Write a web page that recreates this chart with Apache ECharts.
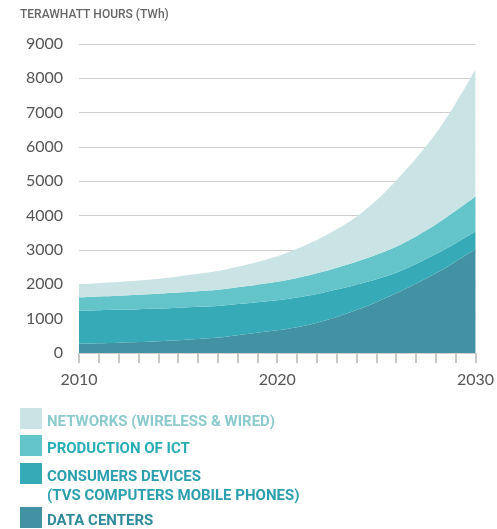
<!DOCTYPE html>
<html>
<head>
<meta charset="utf-8">
<script src="https://cdn.jsdelivr.net/npm/echarts@6/dist/echarts.min.js"></script>
<style>
  html, body { margin: 0; padding: 0; background: #fff; }
  #chart { width: 497px; height: 529px; }
</style>
</head>
<body>
<div id="chart"></div>
<script>
// ICT electricity demand, TWh per year, by sector (stacked)
const years = ['2010','2011','2012','2013','2014','2015','2016','2017','2018','2019','2020',
               '2021','2022','2023','2024','2025','2026','2027','2028','2029','2030'];

const dataCenters = [270, 285, 300, 320, 345, 375, 410, 450, 520, 590, 660,
                     750, 880, 1050, 1250, 1480, 1740, 2020, 2320, 2660, 3020];
const consumerDevices = [960, 960, 958, 955, 950, 945, 935, 920, 905, 890, 880,
                         870, 840, 800, 740, 670, 600, 570, 560, 540, 520];
const productionICT = [390, 400, 410, 420, 430, 440, 455, 470, 490, 510, 535,
                       565, 600, 635, 670, 710, 755, 805, 860, 940, 1020];
const networks = [380, 390, 400, 415, 440, 470, 505, 545, 595, 660, 740,
                  850, 970, 1120, 1310, 1580, 1930, 2270, 2650, 3130, 3690];

const yTicks = [0, 1000, 2000, 3000, 4000, 5000, 6000, 7000, 8000, 9000];

const colors = {
  networks: '#cae4e5',
  production: '#63c4c9',
  consumer: '#37aab7',
  dataCenters: '#4392a3'
};
const labelColors = {
  networks: '#8ccbcd',
  production: '#27adb6',
  consumer: '#2a9fae',
  dataCenters: '#2f8a9c'
};

const NAMES = {
  networks: 'NETWORKS (WIRELESS & WIRED)',
  production: 'PRODUCTION OF ICT',
  consumer: 'CONSUMERS DEVICES',
  dataCenters: 'DATA CENTERS'
};
const CONSUMER_NOTE = '(TVS COMPUTERS MOBILE PHONES)';

function areaSeries(name, data, color) {
  return {
    name: name,
    type: 'line',
    stack: 'total',
    data: data,
    smooth: 0.3,
    symbol: 'none',
    lineStyle: { width: 0 },
    itemStyle: { color: color },
    areaStyle: { color: color, opacity: 1 }
  };
}

function legendItem(key, top) {
  const c = labelColors[key];
  return {
    left: 20,
    top: top,
    padding: 0,
    orient: 'vertical',
    itemWidth: 22,
    itemHeight: 21,
    itemGap: 0,
    icon: 'rect',
    selectedMode: false,
    data: [NAMES[key]],
    formatter: function (name) { return '{t|' + name + '}'; },
    textStyle: {
      color: c,
      rich: {
        t: {
          fontFamily: 'Roboto',
          fontWeight: 'bold',
          fontSize: 15,
          color: c,
          padding: [7, 0, 0, 0]
        }
      }
    }
  };
}

const chart = echarts.init(document.getElementById('chart'), null, { renderer: 'canvas' });

chart.setOption({
  animation: false,
  backgroundColor: '#fff',
  title: {
    text: 'TERAWHATT HOURS (TWh)',
    left: 20,
    top: 9,
    padding: 0,
    textStyle: {
      fontFamily: 'Roboto',
      fontSize: 12,
      fontWeight: 500,
      color: '#666'
    }
  },
  grid: { left: 79, right: 17, top: 44, bottom: 176, containLabel: false },
  xAxis: {
    type: 'category',
    data: years,
    boundaryGap: false,
    offset: 5,
    axisLine: { show: false },
    axisTick: {
      show: true,
      interval: 0,
      length: 10,
      lineStyle: { color: '#c8c8c8', width: 2 }
    },
    axisLabel: {
      interval: 9,
      margin: 14,
      fontFamily: 'Lato',
      fontSize: 16,
      color: '#555'
    },
    splitLine: { show: false }
  },
  yAxis: {
    type: 'value',
    min: yTicks[0],
    max: yTicks[yTicks.length - 1],
    interval: 1000,
    axisLine: { show: false },
    axisTick: { show: false },
    axisLabel: {
      margin: 16,
      fontFamily: 'Lato',
      fontSize: 16,
      color: '#555',
      formatter: function (v) { return String(v); }
    },
    splitLine: { lineStyle: { color: '#cfcfcf', width: 1 } }
  },
  legend: [
    legendItem('networks', 408),
    legendItem('production', 435),
    legendItem('consumer', 463),
    legendItem('dataCenters', 507)
  ],
  graphic: [{
    type: 'text',
    left: 47,
    top: 489,
    style: {
      text: CONSUMER_NOTE,
      fill: labelColors.consumer,
      font: 'bold 15px Roboto'
    }
  }],
  series: [
    areaSeries(NAMES.dataCenters, dataCenters, colors.dataCenters),
    areaSeries(NAMES.consumer, consumerDevices, colors.consumer),
    areaSeries(NAMES.production, productionICT, colors.production),
    areaSeries(NAMES.networks, networks, colors.networks)
  ]
});
</script>
</body>
</html>
